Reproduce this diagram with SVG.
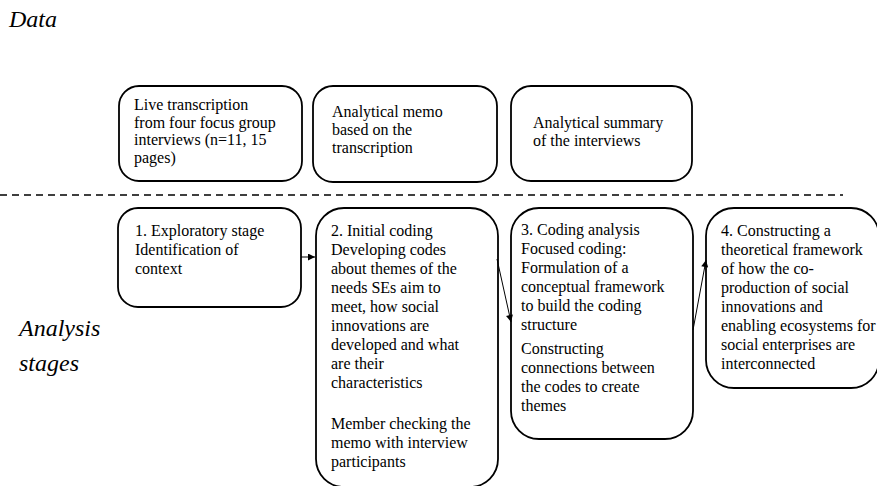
<svg xmlns="http://www.w3.org/2000/svg" width="877" height="486" viewBox="0 0 877 486">
<style>
.box{fill:#fff;stroke:#000;stroke-width:1.8}
.t{font-family:'Liberation Serif',Tinos,'DejaVu Serif',serif;font-size:16px;fill:#000}
.h{font-family:'Liberation Serif',Tinos,'DejaVu Serif',serif;font-size:24px;font-style:italic;fill:#000}
.con{stroke:#000;stroke-width:1;fill:none}
</style>
<defs>
<marker id="ah" viewBox="0 0 10 10" refX="10" refY="5" markerWidth="8" markerHeight="7" markerUnits="userSpaceOnUse" orient="auto">
<path d="M0,0 L10,5 L0,10 Z" fill="#000"/>
</marker>
</defs>
<rect width="877" height="486" fill="#fff"/>
<text class="h" x="9" y="27">Data</text>
<text class="h" x="19" y="336">Analysis</text>
<text class="h" x="19" y="371">stages</text>
<line x1="0" y1="195" x2="843" y2="195" stroke="#000" stroke-width="1.3" stroke-dasharray="7,5"/>
<g id="d1">
<rect class="box" x="119" y="86" width="183" height="95" rx="20"/>
<text class="t" x="134" y="110">Live transcription</text>
<text class="t" x="134" y="127.5">from four focus group</text>
<text class="t" x="134" y="145">interviews (n=11, 15</text>
<text class="t" x="134" y="162.5">pages)</text>
</g>
<g id="d2">
<rect class="box" x="313" y="86" width="184" height="96" rx="20"/>
<text class="t" x="332" y="117">Analytical memo</text>
<text class="t" x="332" y="135">based on the</text>
<text class="t" x="332" y="153">transcription</text>
</g>
<g id="d3">
<rect class="box" x="511" y="86" width="181" height="95" rx="20"/>
<text class="t" x="533" y="127.5">Analytical summary</text>
<text class="t" x="533" y="146">of the interviews</text>
</g>
<g id="s1">
<rect class="box" x="118" y="208" width="183" height="99" rx="20"/>
<text class="t" x="135" y="236">1. Exploratory stage</text>
<text class="t" x="135" y="255">Identification of</text>
<text class="t" x="135" y="274">context</text>
</g>
<g id="s2">
<rect class="box" x="316" y="208" width="182" height="279" rx="28"/>
<text class="t" x="331" y="236">2. Initial coding</text>
<text class="t" x="331" y="255">Developing codes</text>
<text class="t" x="331" y="274">about themes of the</text>
<text class="t" x="331" y="293">needs SEs aim to</text>
<text class="t" x="331" y="312">meet, how social</text>
<text class="t" x="331" y="331">innovations are</text>
<text class="t" x="331" y="350">developed and what</text>
<text class="t" x="331" y="369">are their</text>
<text class="t" x="331" y="388">characteristics</text>
<text class="t" x="331" y="429">Member checking the</text>
<text class="t" x="331" y="448">memo with interview</text>
<text class="t" x="331" y="467">participants</text>
</g>
<g id="s3">
<rect class="box" x="511" y="208" width="182" height="231" rx="28"/>
<text class="t" x="521" y="235">3. Coding analysis</text>
<text class="t" x="521" y="254">Focused coding:</text>
<text class="t" x="521" y="273">Formulation of a</text>
<text class="t" x="521" y="292">conceptual framework</text>
<text class="t" x="521" y="311">to build the coding</text>
<text class="t" x="521" y="330">structure</text>
<text class="t" x="521" y="354">Constructing</text>
<text class="t" x="521" y="373">connections between</text>
<text class="t" x="521" y="392">the codes to create</text>
<text class="t" x="521" y="411">themes</text>
</g>
<g id="s4">
<rect class="box" x="706" y="208" width="173" height="180" rx="28"/>
<text class="t" x="721" y="236">4. Constructing a</text>
<text class="t" x="721" y="255">theoretical framework</text>
<text class="t" x="721" y="274">of how the co-</text>
<text class="t" x="721" y="293">production of social</text>
<text class="t" x="721" y="312">innovations and</text>
<text class="t" x="721" y="331">enabling ecosystems for</text>
<text class="t" x="721" y="350">social enterprises are</text>
<text class="t" x="721" y="369">interconnected</text>
</g>
<g id="connectors">
<line class="con" x1="301" y1="257" x2="315" y2="257" marker-end="url(#ah)"/>
<line class="con" x1="497" y1="259" x2="511" y2="322" marker-end="url(#ah)"/>
<line class="con" x1="693" y1="330" x2="706" y2="260" marker-end="url(#ah)"/>
</g>
</svg>
